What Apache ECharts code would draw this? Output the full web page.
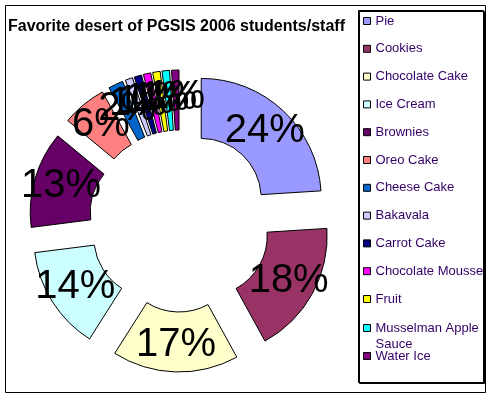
<!DOCTYPE html>
<html>
<head>
<meta charset="utf-8">
<script src="https://cdn.jsdelivr.net/npm/echarts@6/dist/echarts.min.js"></script>
<style>
  html, body { margin: 0; padding: 0; background: #fff; }
  #main { width: 491px; height: 397px; }
</style>
</head>
<body>
<div id="main"></div>
<script>
var desserts = ['Pie', 'Cookies', 'Chocolate Cake', 'Ice Cream', 'Brownies', 'Oreo Cake',
  'Cheese Cake', 'Bakavala', 'Carrot Cake', 'Chocolate Mousse', 'Fruit',
  'Musselman Apple Sauce', 'Water Ice'];
var shares = [24, 18, 17, 14, 13, 6, 2, 1, 1, 1, 1, 1, 1]; // percent labels
var colors = ['#9999FF', '#993366', '#FFFFCC', '#CCFFFF', '#660066', '#FF8080',
  '#0066CC', '#CCCCFF', '#000080', '#FF00FF', '#FFFF00', '#00FFFF', '#800080'];

var font = '"Liberation Sans", Arial, sans-serif';
var legendColor = '#330066';
var myChart = echarts.init(document.getElementById('main'));

var pieData = [];
for (var i = 0; i < desserts.length; i++) {
  pieData.push({
    name: desserts[i],
    value: shares[i],
    selected: true, // exploded doughnut
    itemStyle: { color: colors[i] }
  });
}

// legend split in three so the wrapped name sits like in excel (second line hangs below)
var legendMain = desserts.slice(0, 11);
var legendWrap = [{ name: desserts[11], textStyle: { padding: [18, 0, 0, 0] } }];
var legendLast = desserts.slice(12);

function legendBase(top, data) {
  return {
    orient: 'vertical',
    left: 363,
    top: top,
    padding: 0,
    itemWidth: 7,
    itemHeight: 7,
    itemGap: 13.8,
    icon: 'rect',
    selectedMode: false,
    itemStyle: { borderColor: '#000', borderWidth: 1 },
    textStyle: {
      fontFamily: font, fontSize: 13, color: legendColor, lineHeight: 14,
      rich: {
        l1: { fontFamily: font, fontSize: 13, color: legendColor, lineHeight: 14 },
        l2: { fontFamily: font, fontSize: 13, color: legendColor, lineHeight: 18 }
      }
    },
    formatter: function (name) {
      if (name === 'Musselman Apple Sauce') return '{l1|Musselman Apple}\n{l2|Sauce}';
      return name;
    },
    data: data
  };
}

var option = {
  animation: false,
  title: {
    text: 'Favorite desert of PGSIS 2006 students/staff',
    left: 8,
    top: 18.5,
    padding: 0,
    textStyle: { fontFamily: font, fontSize: 16, fontWeight: 'bold', color: '#000' }
  },
  legend: [legendBase(14, legendMain), legendBase(303, legendWrap), legendBase(349, legendLast)],
  graphic: [
    { type: 'rect', shape: { x: 5.5, y: 5.5, width: 480, height: 387 },
      style: { fill: 'none', stroke: '#000', lineWidth: 1 }, z: -1 },
    { type: 'rect', shape: { x: 358.5, y: 10.5, width: 125, height: 372 },
      style: { fill: '#fff', stroke: '#000', lineWidth: 1, shadowColor: '#000', shadowOffsetX: 1, shadowOffsetY: 1 }, z: -1 }
  ],
  series: [{
    type: 'pie',
    center: [180, 221],
    radius: [60, 120],
    startAngle: 90,
    clockwise: true,
    selectedMode: 'multiple',
    selectedOffset: 31,
    avoidLabelOverlap: false,
    itemStyle: { borderColor: '#000', borderWidth: 1 },
    label: {
      show: true,
      position: 'inside',
      fontFamily: font,
      fontSize: 40,
      color: '#000',
      textBorderWidth: 0,
      formatter: function (p) { return Math.round(p.percent) + '%'; }
    },
    labelLayout: { hideOverlap: false },
    labelLine: { show: false },
    emphasis: { disabled: true },
    select: {
      itemStyle: { borderColor: '#000', borderWidth: 1 },
      label: { color: '#000' }
    },
    data: pieData
  }]
};
myChart.setOption(option);
</script>
</body>
</html>
